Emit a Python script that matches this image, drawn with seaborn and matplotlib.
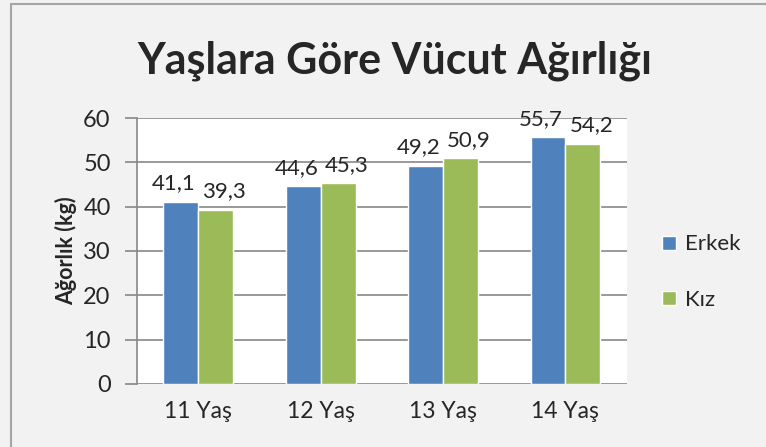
import pandas as pd
import matplotlib.pyplot as plt
import seaborn as sns
from matplotlib.lines import Line2D

# data
yaslar = ["11 Yaş", "12 Yaş", "13 Yaş", "14 Yaş"]
erkek = [41.1, 44.6, 49.2, 55.7]
kiz = [39.3, 45.3, 50.9, 54.2]

df = pd.DataFrame({
    "Yaş": yaslar * 2,
    "Ağırlık": erkek + kiz,
    "Cinsiyet": ["Erkek"] * 4 + ["Kız"] * 4,
})

sns.set_style("white")
plt.rcParams["font.family"] = ["Lato", "DejaVu Sans"]

fig = plt.figure(figsize=(7.66, 4.47), dpi=100, facecolor="#F2F2F2")
ax = fig.add_axes([0.179, 0.141, 0.639, 0.595])
ax.set_facecolor("white")

sns.barplot(data=df, x="Yaş", y="Ağırlık", hue="Cinsiyet",
            palette=["#4F81BD", "#9BBB59"], width=0.57, saturation=1,
            ax=ax, zorder=3)

# value labels, nudged apart a little like in the original
for cont, dx in zip(ax.containers, [-5, 6]):
    texts = ax.bar_label(cont, labels=[f"{v:.1f}".replace(".", ",") for v in cont.datavalues],
                         fontsize=16, padding=6)
    for t in texts:
        t.xyann = (dx, t.xyann[1])

ax.set_ylim(0, 60)
ax.set_yticks(range(0, 61, 10))
ax.yaxis.grid(True, color="#878787", linewidth=1.2, zorder=0)
ax.tick_params(axis="y", length=9, width=1.2, color="#878787", labelsize=17,
               direction="out", left=True, pad=10)
ax.tick_params(axis="x", length=0, labelsize=16.5, pad=12)
for s in ["top", "right", "bottom"]:
    ax.spines[s].set_visible(False)
ax.spines["left"].set_color("#878787")
ax.spines["left"].set_linewidth(1.2)
ax.set_xlabel("")
ax.set_ylabel("Ağorlık (kg)", fontsize=15.5, fontweight="bold", labelpad=4)

ax.legend(loc="center left", bbox_to_anchor=(1.055, 0.42), frameon=False,
          fontsize=16, handlelength=0.6, handleheight=0.6,
          labelspacing=1.6, handletextpad=0.4, borderaxespad=0)

fig.text(0.516, 0.865, "Yaşlara Göre Vücut Ağırlığı", fontsize=31,
         fontweight="bold", ha="center", va="center")

# outer chart border (left and top only visible)
fig.add_artist(Line2D([0.014, 0.014], [0, 0.99], transform=fig.transFigure, color="#A6A6A6", lw=1.5))
fig.add_artist(Line2D([0.014, 1.0], [0.99, 0.99], transform=fig.transFigure, color="#A6A6A6", lw=1.5))

fig.savefig("out.png", dpi=100, facecolor=fig.get_facecolor())
